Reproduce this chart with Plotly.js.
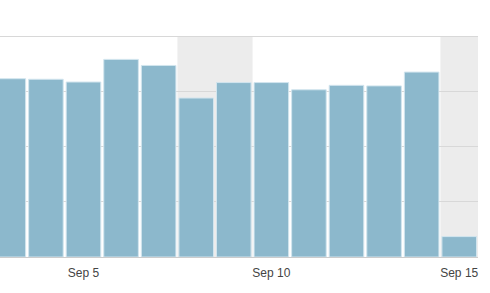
<!DOCTYPE html>
<html>
<head>
<meta charset="utf-8">
<script src="https://cdn.plot.ly/plotly-3.0.1.min.js"></script>
<style>html,body{margin:0;padding:0;background:#fff;}#chart{width:490px;height:293px;}</style>
</head>
<body>
<div id="chart"></div>
<script>
var days = ['2018-09-03','2018-09-04','2018-09-05','2018-09-06','2018-09-07','2018-09-08','2018-09-09','2018-09-10','2018-09-11','2018-09-12','2018-09-13','2018-09-14','2018-09-15'];
var values = [323, 322, 317, 358, 347, 288, 316, 316, 303, 311, 310, 335, 37];
var tickDates = ['2018-09-05','2018-09-10','2018-09-15'];
var tickLabels = ['Sep 5','Sep 10','Sep 15'];
var weekendStart = ['2018-09-07 12:00','2018-09-14 12:00'];
var weekendEnd = ['2018-09-09 12:00','2018-09-16 12:00'];
var yTop = 400;

var shapes = weekendStart.map(function(s, i){
  return {type:'rect', xref:'x', yref:'y', x0:s, x1:weekendEnd[i], y0:0, y1:yTop,
    fillcolor:'#ececec', line:{width:0}, layer:'below'};
});

Plotly.newPlot('chart', [{
  type:'bar', x:days, y:values,
  marker:{color:'#8cb8cc', line:{color:'#d2e5ee', width:1}},
  hoverinfo:'none'
}], {
  width:490, height:293,
  margin:{l:0, r:12, t:34, b:36},
  paper_bgcolor:'#fff', plot_bgcolor:'#fff',
  bargap:0.08,
  showlegend:false,
  shapes:shapes,
  xaxis:{type:'date', range:['2018-09-02 18:40','2018-09-15 12:00'],
    tickvals:tickDates, ticktext:tickLabels, showgrid:false, zeroline:false,
    showline:true, linecolor:'#cccccc', linewidth:1,
    ticks:'outside', ticklen:5, tickcolor:'rgba(0,0,0,0)',
    tickfont:{family:'Liberation Sans, Arial, sans-serif', size:12, color:'#444'}},
  yaxis:{range:[0,404], dtick:100, showticklabels:false, showgrid:true,
    gridcolor:'#d8d8d8', zeroline:false, showline:false, ticks:''}
}, {displayModeBar:false, staticPlot:true});
</script>
</body>
</html>
